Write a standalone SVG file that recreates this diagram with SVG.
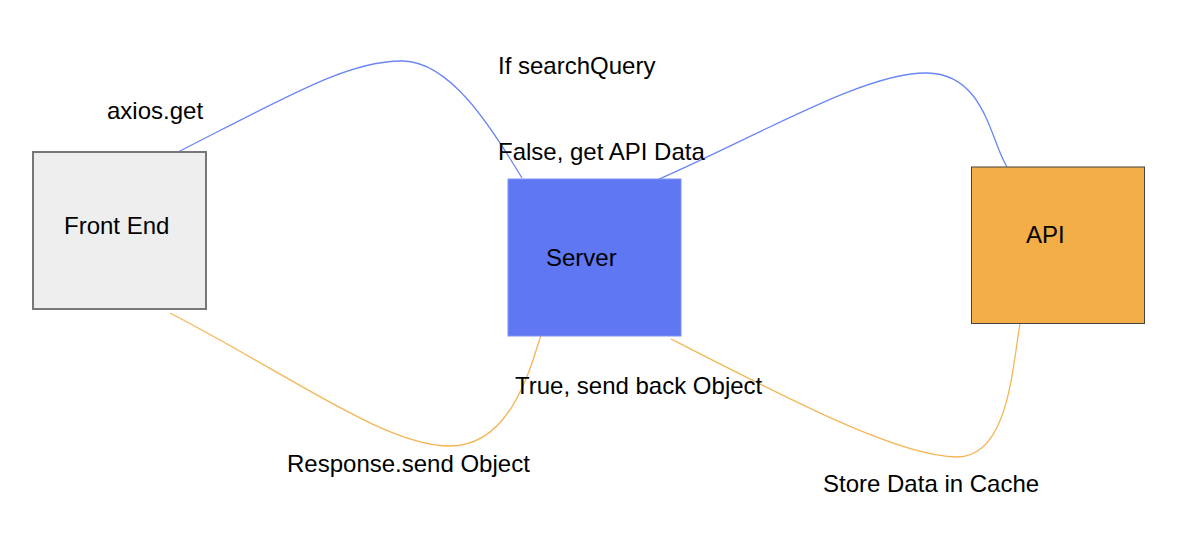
<svg xmlns="http://www.w3.org/2000/svg" width="1186" height="550" viewBox="0 0 1186 550">
<style>
text{font-family:"Liberation Sans",Arial,sans-serif;font-size:24px;fill:#000}
.blue{fill:none;stroke:#6b86f5;stroke-width:1.3}
.orange{fill:none;stroke:#f5b556;stroke-width:1.3}
</style>
<rect width="1186" height="550" fill="#fff"/>
<g id="connectors">
<path class="blue" d="M178,152 C290,95 350,60 403,61 C450,62 490,125 522,178"/>
<path class="blue" d="M657,180 C760,135 865,72 927,73 C985,74 990,140 1007,167"/>
<path class="orange" d="M170,313 C290,375 385,446 450,446 C510,446 530,370 541,335"/>
<path class="orange" d="M671,339 C790,400 900,457 957,457 C1008,457 1012,370 1020,324"/>
</g>
<g id="front-end">
<rect x="33" y="152" width="173" height="157" fill="#eeeeee" stroke="#777777" stroke-width="2"/>
<text x="64" y="234">Front End</text>
</g>
<g id="server">
<rect x="508" y="179" width="173" height="157" fill="#5f77f2" stroke="#7f92f5" stroke-width="1"/>
<text x="546" y="266">Server</text>
</g>
<g id="api">
<rect x="971.5" y="167" width="173" height="156.5" fill="#f3ae47" stroke="#444444" stroke-width="1"/>
<text x="1026" y="243">API</text>
</g>
<g id="labels">
<text x="107" y="119">axios.get</text>
<text x="498" y="74">If searchQuery</text>
<text x="498" y="160">False, get API Data</text>
<text x="515" y="394">True, send back Object</text>
<text x="287" y="472">Response.send Object</text>
<text x="823" y="492">Store Data in Cache</text>
</g>
</svg>
